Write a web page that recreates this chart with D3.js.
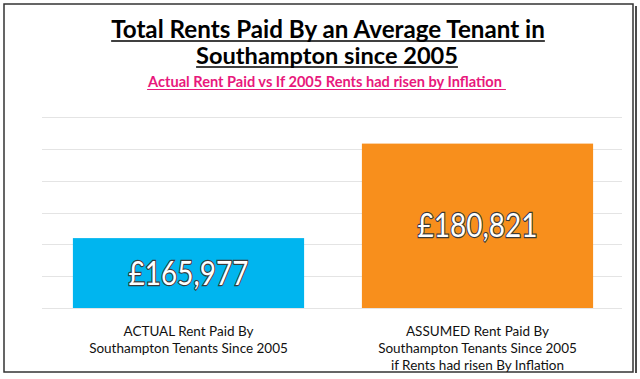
<!DOCTYPE html>
<meta charset="utf-8">
<style>
  body { margin: 0; background: #fff; }
  text { font-family: Lato, "Open Sans", sans-serif; }
  .grid line { stroke: #e4e4e4; stroke-width: 1; }
</style>
<script src="https://d3js.org/d3.v7.min.js"></script>
<body>
<script>

var categories = ["ACTUAL", "ASSUMED"];
var values = [165977, 180821];
var valueLabels = ["£165,977", "£180,821"];
var catLabels = [
  ["ACTUAL  Rent Paid By", "Southampton Tenants Since 2005"],
  ["ASSUMED Rent Paid By", "Southampton Tenants Since 2005", "if Rents had risen By Inflation"]
];
var colors = ["#00b5ef", "#f88f1c"];
var yDomain = [155000, 185000];
var titleLines = ["Total Rents Paid By an Average Tenant in", "Southampton since 2005"];
var subtitle = "Actual Rent Paid vs If 2005 Rents had risen by Inflation";

var width = 640, height = 379;

var svg = d3.select("body").append("svg")
    .attr("width", width)
    .attr("height", height);

// frame
svg.append("rect")
    .attr("x", 4).attr("y", 4)
    .attr("width", 629).attr("height", 368)
    .attr("fill", "#fff")
    .attr("stroke", "#333")
    .attr("stroke-width", 1.5);
svg.append("line")
    .attr("x1", 636).attr("x2", 636)
    .attr("y1", 6).attr("y2", 373)
    .attr("stroke", "#111").attr("stroke-width", 1.5);

// fits a text element to a given width by changing its font size
function fit(sel, w) {
  var len = sel.node().getComputedTextLength();
  var fs = parseFloat(sel.attr("font-size"));
  sel.attr("font-size", fs * w / len);
}

function underline(sel, color, thick, off, extra) {
  var bb = sel.node().getBBox();
  svg.append("line")
      .attr("x1", bb.x).attr("x2", bb.x + bb.width + (extra || 0))
      .attr("y1", +sel.attr("y") + off).attr("y2", +sel.attr("y") + off)
      .attr("stroke", color).attr("stroke-width", thick);
}

var t1 = svg.append("text")
    .attr("x", 328).attr("y", 38)
    .attr("text-anchor", "middle")
    .attr("font-size", 21).attr("font-weight", "bold")
    .attr("fill", "#000")
    .text(titleLines[0]);
fit(t1, 434);
underline(t1, "#000", 1.5, 3);

var t2 = svg.append("text")
    .attr("x", 327).attr("y", 64)
    .attr("text-anchor", "middle")
    .attr("font-size", 21).attr("font-weight", "bold")
    .attr("fill", "#000")
    .text(titleLines[1]);
fit(t2, 262);
underline(t2, "#000", 1.5, 3);

var st = svg.append("text")
    .attr("x", 325).attr("y", 87)
    .attr("text-anchor", "middle")
    .attr("font-size", 13).attr("font-weight", "bold")
    .attr("fill", "#e8187c")
    .text(subtitle);
fit(st, 354);
underline(st, "#e8187c", 1, 2.5, 4);

var x = d3.scaleBand()
    .domain(categories)
    .range([44, 622])
    .paddingInner(0.2)
    .paddingOuter(0.1);

var y = d3.scaleLinear()
    .domain(yDomain)
    .range([308, 117]);

svg.append("g")
    .attr("class", "grid")
  .selectAll("line")
  .data(y.ticks(6))
  .enter().append("line")
    .attr("x1", 42).attr("x2", 622)
    .attr("y1", function(d) { return Math.round(y(d)) + 0.5; })
    .attr("y2", function(d) { return Math.round(y(d)) + 0.5; });

svg.selectAll(".bar")
  .data(values)
  .enter().append("rect")
    .attr("class", "bar")
    .attr("x", function(d, i) { return x(categories[i]); })
    .attr("y", function(d) { return y(d); })
    .attr("width", x.bandwidth())
    .attr("height", function(d) { return y(yDomain[0]) - y(d); })
    .attr("fill", function(d, i) { return colors[i]; });

// value labels, stretched a bit vertically to mimic the narrow original face
svg.selectAll(".val")
  .data(values)
  .enter().append("g")
    .attr("transform", function(d, i) {
      var cx = x(categories[i]) + x.bandwidth() / 2;
      var cy = (y(d) + y(yDomain[0])) / 2;
      return "translate(" + cx + "," + cy + ") scale(1,1.18)";
    })
  .append("text")
    .attr("class", "val")
    .attr("dy", "0.35em")
    .attr("text-anchor", "middle")
    .attr("font-size", 32)
    .attr("fill", "#fff")
    .attr("stroke", "#3a3a3a")
    .attr("stroke-width", 2)
    .attr("paint-order", "stroke")
    .text(function(d, i) { return valueLabels[i]; })
    .each(function() { fit(d3.select(this), 120); });

catLabels.forEach(function(lines, i) {
  var cx = x(categories[i]) + x.bandwidth() / 2;
  lines.forEach(function(l, j) {
    svg.append("text")
        .attr("x", cx)
        .attr("y", 336 + j * 17)
        .attr("text-anchor", "middle")
        .attr("font-size", 13.5)
        .attr("fill", "#111")
        .text(l);
  });
});

</script>
</body>
